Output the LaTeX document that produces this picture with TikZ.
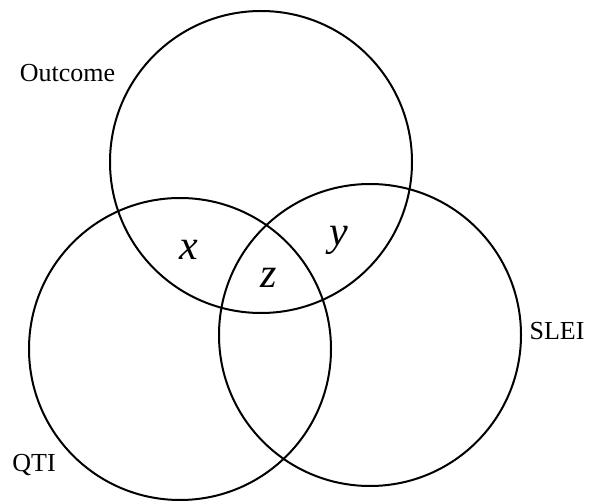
\documentclass[tikz,border=0pt]{standalone}
\usepackage{fontspec}
\setmainfont{Liberation Serif}
\begin{document}
\begin{tikzpicture}[x=1pt,y=-1pt,
  venn/.style={draw=black, line width=2pt, circle, minimum size=302pt, inner sep=0pt},
  setlabel/.style={font=\fontsize{26}{30}\selectfont, inner sep=0pt},
  reglabel/.style={font=\fontsize{42}{46}\selectfont\itshape, inner sep=0pt}]
\useasboundingbox (0,0) rectangle (589,502);
\node[venn] (outcome) at (261,162) {};
\node[venn] (qti) at (180,349) {};
\node[venn] (slei) at (370,335) {};
\node[setlabel] (loutcome) at (67.5,73) {Outcome};
\node[setlabel] (lqti) at (34,465) {QTI};
\node[setlabel] (lslei) at (557,331) {SLEI};
\node[reglabel] (lx) at (189,250) {x};
\node[reglabel] (ly) at (339,240) {y};
\node[reglabel] (lz) at (269,278) {z};
\end{tikzpicture}
\end{document}
